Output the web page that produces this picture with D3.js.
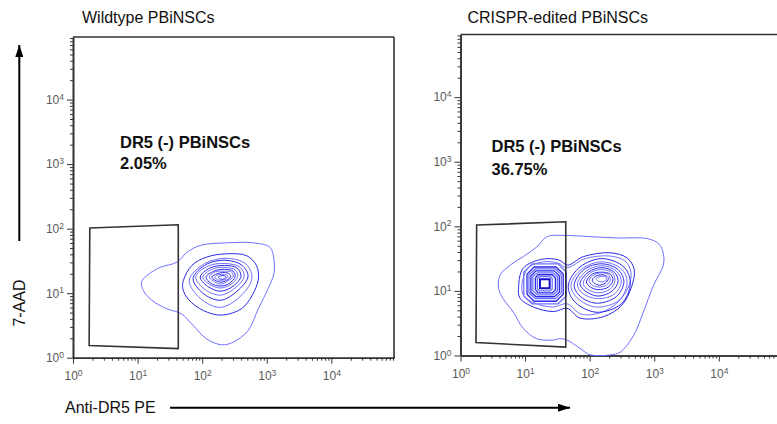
<!DOCTYPE html>
<html><head><meta charset="utf-8">
<script src="https://cdn.jsdelivr.net/npm/d3@7"></script>
<style>
body{margin:0;background:#fff}
svg{display:block}
text{font-family:"Liberation Sans", Arial, Helvetica, sans-serif}
</style>
</head><body>
<svg id="chart" width="777" height="424"></svg>
<script>
// ---------- data ----------
const panelTitles = ["Wildtype PBiNSCs", "CRISPR-edited PBiNSCs"];
const gateLabel = "DR5 (-) PBiNSCs";
const gatePercents = ["2.05%", "36.75%"];
const xAxisLabel = "Anti-DR5 PE";
const yAxisLabel = "7-AAD";
const majorTickValues = [1, 10, 100, 1000, 10000];
const majorTickExponents = ["0", "1", "2", "3", "4"];
const axisMaxLog10 = 4.97;

// gate polygons, [log10 Anti-DR5 PE, log10 7-AAD]
const wtGate = [[0.26, 2.01], [1.63, 2.06], [1.63, 0.14], [0.25, 0.19]];
const crGate = [[0.25, 2.02], [1.63, 2.07], [1.63, 0.13], [0.24, 0.20]];

// density contour outlines (log10 units), outer -> inner
const wtContours = [
  [[1.06,1.17],[1.14,1.27],[1.35,1.40],[1.61,1.48],[1.76,1.63],[1.97,1.74],[2.38,1.78],[2.79,1.78],[3.05,1.71],[3.11,1.53],[3.11,1.30],[3.02,1.07],[2.87,0.76],[2.71,0.42],[2.48,0.24],[2.30,0.20],[2.07,0.29],[1.86,0.50],[1.68,0.68],[1.45,0.76],[1.22,0.89],[1.09,1.04]],
  [[1.71,1.20],[1.84,1.43],[2.07,1.56],[2.38,1.61],[2.69,1.58],[2.84,1.43],[2.87,1.22],[2.77,0.96],[2.61,0.76],[2.30,0.66],[2.02,0.73],[1.79,0.90],[1.70,1.07]],
  [[1.80,1.20],[2.04,1.46],[2.38,1.54],[2.68,1.45],[2.77,1.23],[2.59,0.95],[2.28,0.78],[1.97,0.92]],
  [[1.86,1.23],[2.07,1.45],[2.37,1.51],[2.62,1.43],[2.71,1.26],[2.54,1.03],[2.28,0.89],[2.01,1.00]],
  [[1.90,1.25],[2.09,1.42],[2.35,1.46],[2.59,1.40],[2.65,1.26],[2.51,1.08],[2.28,0.97],[2.04,1.06]],
  [[1.97,1.25],[2.12,1.39],[2.35,1.43],[2.54,1.39],[2.60,1.26],[2.48,1.11],[2.28,1.03],[2.08,1.11]],
  [[2.01,1.25],[2.15,1.37],[2.35,1.40],[2.51,1.36],[2.55,1.26],[2.45,1.14],[2.28,1.08],[2.11,1.14]],
  [[2.06,1.25],[2.18,1.34],[2.35,1.37],[2.48,1.34],[2.51,1.26],[2.42,1.15],[2.28,1.11],[2.14,1.15]],
  [[2.11,1.25],[2.20,1.33],[2.34,1.34],[2.45,1.33],[2.48,1.26],[2.40,1.19],[2.28,1.14],[2.17,1.19]],
  [[2.15,1.25],[2.23,1.30],[2.34,1.32],[2.42,1.30],[2.44,1.25],[2.38,1.20],[2.29,1.17],[2.20,1.20]],
  [[2.20,1.25],[2.26,1.29],[2.34,1.29],[2.38,1.28],[2.40,1.25],[2.37,1.22],[2.31,1.20],[2.23,1.21]],
  [[2.25,1.25],[2.29,1.27],[2.34,1.27],[2.37,1.25],[2.34,1.22],[2.28,1.22]]
];

const crContours = [
  [[0.59,1.04],[0.61,1.24],[0.77,1.40],[0.97,1.53],[1.18,1.68],[1.34,1.84],[1.59,1.86],[2.01,1.84],[2.42,1.82],[2.89,1.81],[3.07,1.73],[3.14,1.58],[3.14,1.40],[2.99,1.09],[2.83,0.67],[2.68,0.31],[2.47,0.05],[2.32,0.01],[2.01,0.01],[1.85,0.11],[1.65,0.24],[1.54,0.26],[1.44,0.24],[1.18,0.26],[0.97,0.42],[0.82,0.67],[0.66,0.88]],
  [[0.90,1.07],[0.97,1.35],[1.26,1.49],[1.52,1.48],[1.66,1.40],[1.90,1.53],[2.32,1.59],[2.58,1.51],[2.69,1.33],[2.65,1.07],[2.50,0.78],[2.21,0.60],[1.85,0.58],[1.65,0.73],[1.44,0.68],[1.13,0.75],[0.92,0.89]],
  [[0.95,1.09],[1.05,1.36],[1.28,1.45],[1.51,1.43],[1.65,1.36],[1.93,1.50],[2.32,1.54],[2.55,1.46],[2.64,1.29],[2.60,1.06],[2.44,0.83],[2.19,0.67],[1.87,0.64],[1.65,0.80],[1.43,0.75],[1.15,0.81],[0.98,0.92]],
  [[1.67,1.09],[1.85,1.37],[2.19,1.50],[2.53,1.37],[2.63,1.12],[2.49,0.80],[2.10,0.67],[1.76,0.84]],
  [[1.71,1.09],[1.88,1.34],[2.19,1.45],[2.49,1.34],[2.58,1.14],[2.46,0.86],[2.10,0.75],[1.81,0.89]],
  [[1.76,1.09],[1.91,1.33],[2.19,1.42],[2.44,1.33],[2.53,1.14],[2.41,0.91],[2.10,0.81],[1.85,0.92]],
  [[1.81,1.11],[1.95,1.31],[2.19,1.39],[2.41,1.31],[2.49,1.14],[2.38,0.95],[2.12,0.88],[1.88,0.97]],
  [[1.85,1.11],[1.98,1.29],[2.19,1.36],[2.38,1.29],[2.44,1.15],[2.35,1.00],[2.13,0.92],[1.93,1.00]],
  [[1.90,1.12],[2.01,1.28],[2.19,1.33],[2.35,1.28],[2.39,1.15],[2.32,1.03],[2.13,0.97],[1.96,1.03]],
  [[1.95,1.14],[2.04,1.26],[2.19,1.29],[2.32,1.26],[2.36,1.17],[2.29,1.06],[2.13,1.02],[2.01,1.06]],
  [[1.99,1.16],[2.07,1.25],[2.19,1.28],[2.29,1.25],[2.32,1.17],[2.26,1.09],[2.13,1.06],[2.04,1.09]],
  [[2.04,1.17],[2.10,1.23],[2.19,1.25],[2.26,1.23],[2.29,1.19],[2.24,1.12],[2.15,1.09],[2.07,1.12]],
  [[2.10,1.19],[2.16,1.22],[2.24,1.22],[2.26,1.17],[2.19,1.14],[2.12,1.16]]
];

// dense DR5-negative peak of the edited sample (blocky outlines)
const crNegPeak = [
  [[0.98,1.29],[1.11,1.42],[1.51,1.42],[1.64,1.29],[1.64,0.92],[1.51,0.80],[1.11,0.80],[0.98,0.92]],
  [[1.03,1.26],[1.14,1.37],[1.48,1.37],[1.59,1.26],[1.59,0.95],[1.48,0.84],[1.14,0.84],[1.03,0.95]],
  [[1.06,1.25],[1.16,1.34],[1.47,1.34],[1.56,1.25],[1.56,0.97],[1.47,0.88],[1.16,0.88],[1.06,0.97]],
  [[1.09,1.23],[1.17,1.31],[1.45,1.31],[1.53,1.23],[1.53,0.98],[1.45,0.91],[1.17,0.91],[1.09,0.98]],
  [[1.12,1.22],[1.19,1.28],[1.43,1.28],[1.50,1.22],[1.50,1.00],[1.43,0.94],[1.19,0.94],[1.12,1.00]],
  [[1.16,1.20],[1.20,1.25],[1.42,1.25],[1.47,1.20],[1.47,1.02],[1.42,0.97],[1.20,0.97],[1.16,1.02]],
  [[1.19,1.19],[1.22,1.22],[1.39,1.22],[1.42,1.19],[1.42,1.03],[1.39,1.00],[1.22,1.00],[1.19,1.03]],
  [[1.23,1.18],[1.38,1.18],[1.38,1.04],[1.23,1.04]]
];

// ---------- drawing ----------
const svg = d3.select("#chart");
const AXIS = "#333";
const LABEL = "#5a5a5a";
const contourColors = ["#7070ff", "#2a2ae6"];

const panels = [
  {x0: 73, x1: 394, y0: 357.7, y1: 37, title: panelTitles[0], tx: 82, ty: 23,
   contours: wtContours, peak: [], gate: wtGate, pct: gatePercents[0], ax: 120, ay1: 147.5, ay2: 168.5},
  {x0: 460.5, x1: 781.5, y0: 355.5, y1: 34.5, title: panelTitles[1], tx: 467.5, ty: 23,
   contours: crContours, peak: crNegPeak, gate: crGate, pct: gatePercents[1], ax: 491.5, ay1: 151.5, ay2: 174.5}
];

const axisMax = Math.pow(10, axisMaxLog10);

function supLabel(sel, exps) {
  sel.each(function(d, i) {
    const t = d3.select(this).text(null);
    t.append("tspan").text("10");
    t.append("tspan").attr("dy", "-0.5em").attr("font-size", "8.5px").text(exps[i]);
  });
}

panels.forEach(p => {
  const x = d3.scaleLog().domain([1, axisMax]).range([p.x0, p.x1]);
  const y = d3.scaleLog().domain([1, axisMax]).range([p.y0, p.y1]);
  const g = svg.append("g");

  // frame (top & right)
  g.append("line").attr("x1", p.x0).attr("x2", p.x1).attr("y1", p.y1).attr("y2", p.y1)
    .attr("stroke", AXIS).attr("stroke-width", 1.6);
  g.append("line").attr("x1", p.x1).attr("x2", p.x1).attr("y1", p.y1).attr("y2", p.y0)
    .attr("stroke", AXIS).attr("stroke-width", 1.6);

  const minorX = x.ticks().filter(v => !majorTickValues.includes(v) && v <= axisMax);
  const minorY = y.ticks().filter(v => !majorTickValues.includes(v) && v <= axisMax);

  const style = a => {
    a.select(".domain").attr("stroke", AXIS).attr("stroke-width", 1.6);
    a.selectAll(".tick line").attr("stroke", AXIS).attr("stroke-width", 1);
  };

  // x axis
  g.append("g").attr("transform", `translate(0,${p.y0})`)
    .call(d3.axisBottom(x).tickValues(minorX).tickSize(3).tickSizeOuter(0).tickFormat(""))
    .call(style);
  const xa = g.append("g").attr("transform", `translate(0,${p.y0})`)
    .call(d3.axisBottom(x).tickValues(majorTickValues).tickSize(6).tickSizeOuter(0).tickPadding(8))
    .call(style);
  xa.selectAll(".tick text").attr("fill", LABEL).attr("font-size", "12px")
    .attr("font-family", '"Liberation Sans", Arial, sans-serif').call(supLabel, majorTickExponents);

  // y axis
  g.append("g").attr("transform", `translate(${p.x0},0)`)
    .call(d3.axisLeft(y).tickValues(minorY).tickSize(3).tickSizeOuter(0).tickFormat(""))
    .call(style);
  const ya = g.append("g").attr("transform", `translate(${p.x0},0)`)
    .call(d3.axisLeft(y).tickValues(majorTickValues).tickSize(6).tickSizeOuter(0).tickPadding(3))
    .call(style);
  ya.selectAll(".tick text").attr("fill", LABEL).attr("font-size", "12px")
    .attr("font-family", '"Liberation Sans", Arial, sans-serif').call(supLabel, majorTickExponents);

  const px = d => x(Math.pow(10, d[0]));
  const py = d => y(Math.pow(10, d[1]));
  const smooth = d3.line().x(px).y(py).curve(d3.curveCatmullRomClosed.alpha(0.5));
  const blocky = d3.line().x(px).y(py).curve(d3.curveLinearClosed);

  g.append("g").selectAll("path").data(p.contours).join("path")
    .attr("d", smooth).attr("fill", "none")
    .attr("stroke", (d, i) => contourColors[i % 2]).attr("stroke-width", 1);

  g.append("g").selectAll("path").data(p.peak).join("path")
    .attr("d", blocky).attr("fill", (d, i) => i === p.peak.length - 1 ? "#fff" : "none")
    .attr("stroke", (d, i) => i === p.peak.length - 1 ? "#1010c8" : contourColors[i % 2])
    .attr("stroke-width", (d, i) => i === p.peak.length - 1 ? 2 : 1.3);

  // gate
  g.append("path").datum(p.gate).attr("d", blocky)
    .attr("fill", "none").attr("stroke", "#333").attr("stroke-width", 1.6);

  // titles & annotations
  g.append("text").attr("x", p.tx).attr("y", p.ty).attr("font-size", "16px").attr("fill", "#111").text(p.title);
  g.append("text").attr("x", p.ax).attr("y", p.ay1).attr("font-size", "16.5px").attr("font-weight", "bold").attr("fill", "#111").text(gateLabel);
  g.append("text").attr("x", p.ax).attr("y", p.ay2).attr("font-size", "16.5px").attr("font-weight", "bold").attr("fill", "#111").text(p.pct);
});

// axis titles with arrows
svg.append("defs").append("marker").attr("id", "ah").attr("viewBox", "0 0 12 8")
  .attr("refX", 12).attr("refY", 4).attr("markerWidth", 12).attr("markerHeight", 8)
  .attr("markerUnits", "userSpaceOnUse").attr("orient", "auto")
  .append("path").attr("d", "M0,0L12,4L0,8Z").attr("fill", "#000");

svg.append("line").attr("x1", 19.3).attr("y1", 241).attr("x2", 19.3).attr("y2", 45)
  .attr("stroke", "#000").attr("stroke-width", 2).attr("marker-end", "url(#ah)");
svg.append("text").attr("transform", "translate(25,303) rotate(-90)").attr("text-anchor", "middle")
  .attr("font-size", "16px").attr("fill", "#111").text(yAxisLabel);

svg.append("line").attr("x1", 170).attr("y1", 407.7).attr("x2", 570).attr("y2", 407.7)
  .attr("stroke", "#000").attr("stroke-width", 2).attr("marker-end", "url(#ah)");
svg.append("text").attr("x", 65).attr("y", 413).attr("font-size", "16px").attr("fill", "#111").text(xAxisLabel);
</script>
</body></html>
